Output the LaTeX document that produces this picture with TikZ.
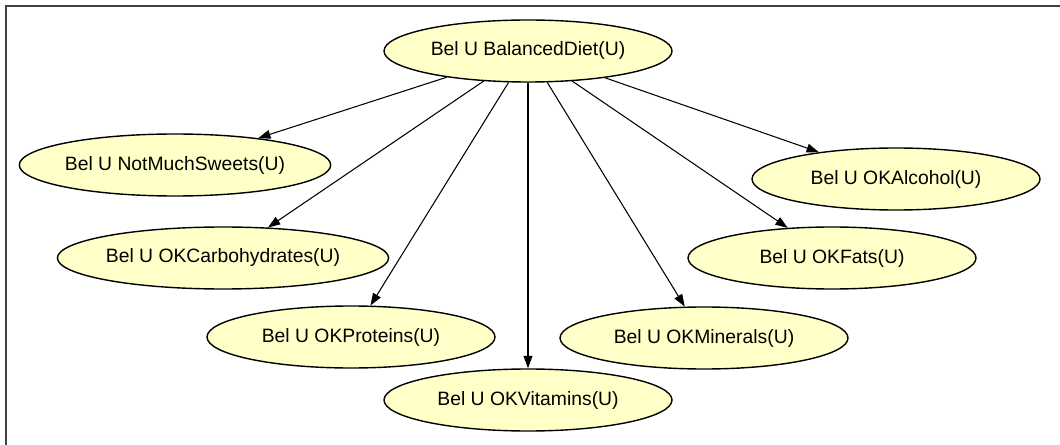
\documentclass[tikz,border=0pt]{standalone}
\usepackage{fontspec}
\setmainfont{Liberation Sans}
\usetikzlibrary{shapes.geometric, arrows.meta}
\definecolor{beliefyellow}{RGB}{255,255,200}
\tikzset{
  belief/.style={ellipse, draw, line width=0.8pt, fill=beliefyellow, minimum width=5.76cm, minimum height=1.24cm, inner sep=0pt, font=\fontsize{11}{13}\selectfont},
  link/.style={black, line width=0.6pt, -{Triangle[length=7pt, width=5pt]}}
}

\begin{document}
\begin{tikzpicture}
  \useasboundingbox (0,0) rectangle (21.2,-8.9);
  \draw[black!75, line width=1.2pt] (0.12,-8.9) -- (0.12,-0.12) -- (21.2,-0.12);
  \node[belief] (BD) at (10.56,-1.02) {Bel U BalancedDiet(U)};
  \node[belief] (NMS) at (3.50,-3.30) {Bel U NotMuchSweets(U)};
  \node[belief] (CH) at (4.46,-5.16) {Bel U OKCarbohydrates(U)};
  \node[belief] (PR) at (7.02,-6.74) {Bel U OKProteins(U)};
  \node[belief] (VI) at (10.56,-8.00) {Bel U OKVitamins(U)};
  \node[belief] (MI) at (14.08,-6.76) {Bel U OKMinerals(U)};
  \node[belief] (FA) at (16.64,-5.16) {Bel U OKFats(U)};
  \node[belief] (AL) at (17.92,-3.58) {Bel U OKAlcohol(U)};
  \draw[link] (BD) -- (NMS);
  \draw[link] (BD) -- (CH);
  \draw[link] (BD) -- (PR);
  \draw[link] (BD) -- (VI);
  \draw[link] (BD) -- (MI);
  \draw[link] (BD) -- (FA);
  \draw[link] (BD) -- (AL);
\end{tikzpicture}
\end{document}
